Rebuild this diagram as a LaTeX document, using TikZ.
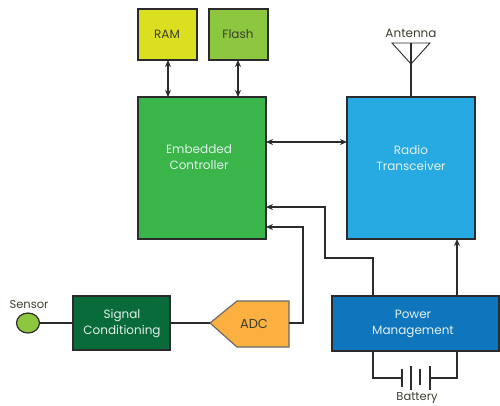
\documentclass[tikz,border=0pt]{standalone}
\usepackage{fontspec}
\setmainfont{Poppins}
\usetikzlibrary{arrows.meta,shapes.geometric}
\definecolor{cram}{HTML}{DADF1F}
\definecolor{cflash}{HTML}{8DC63F}
\definecolor{cemb}{HTML}{39B54A}
\definecolor{cradio}{HTML}{27AAE1}
\definecolor{cpow}{HTML}{0F75BC}
\definecolor{csig}{HTML}{096A3A}
\definecolor{cadc}{HTML}{FBB040}
\definecolor{cline}{HTML}{2B2A2C}
\definecolor{cwtext}{HTML}{E4F1EC}
\definecolor{cdtext}{HTML}{3C3F30}
\tikzset{
  blk/.style={draw=cline,line width=1.6pt,outer sep=0pt,inner sep=0pt,anchor=north west},
  wtxt/.style={align=center,inner sep=0pt,font=\fontsize{12}{16}\selectfont,text=cwtext},
  dtxt/.style={align=center,inner sep=0pt,font=\fontsize{12}{16}\selectfont,text=cdtext},
  lbl/.style={font=\fontsize{11.5}{12}\selectfont,text=cdtext,inner sep=0pt},
  wire/.style={draw=cline,line width=1.4pt,line join=miter},
  arr/.style={wire,-{Stealth[length=7pt,width=6pt]}},
  darr/.style={wire,{Stealth[length=7pt,width=6pt]}-{Stealth[length=7pt,width=6pt]}},
}
\begin{document}
\begin{tikzpicture}[x=1pt,y=-1pt]
\useasboundingbox (0,0) rectangle (500,405);
\node[blk,fill=cram,minimum width=59pt,minimum height=51pt] (ram) at (138,9) {};
\node[blk,fill=cflash,minimum width=59pt,minimum height=51pt] (flash) at (209,9) {};
\node[blk,fill=cemb,minimum width=128pt,minimum height=142pt] (emb) at (138,97) {};
\node[blk,fill=cradio,minimum width=128pt,minimum height=142pt] (radio) at (347,97) {};
\node[blk,fill=cpow,minimum width=167pt,minimum height=55pt] (pow) at (332,296) {};
\node[blk,fill=csig,minimum width=97pt,minimum height=54pt] (sig) at (73,296) {};
\node[dtxt] (ramt) at (167,34) {RAM};
\node[dtxt] (flasht) at (238,34) {Flash};
\node[wtxt] (embt) at (199,157) {Embedded\\Controller};
\node[wtxt] (radiot) at (411,158) {Radio\\Transceiver};
\node[wtxt] (powt) at (413,324) {Power\\Management};
\node[wtxt] (sigt) at (122,324) {Signal\\Conditioning};
\node[draw=cline,fill=cflash,line width=1.2pt,ellipse,inner sep=0pt,outer sep=0pt,
  minimum width=23pt,minimum height=20pt] (sensor) at (28,323) {};
\coordinate (adcr) at (289,323);
\coordinate (adcl) at (210,323);
\filldraw[fill=cadc,draw=cline!70,line width=1.2pt,line join=miter]
  (adcl) -- (237,301) -- (289,301) -- (289,347) -- (237,347) -- cycle;
\node[lbl,font=\fontsize{13}{14}\selectfont] (adc) at (254,324) {ADC};
\node[lbl] (senslbl) at (29,304) {Sensor};
\node[lbl,font=\fontsize{12}{12}\selectfont] (antlbl) at (411,33) {Antenna};
\node[lbl,anchor=north] (batlbl) at (417,392.5) {Battery};

\draw[darr] (ram.south -| 168,0) -- (emb.north -| 168,0);
\draw[darr] (flash.south -| 238,0) -- (emb.north -| 238,0);
\coordinate (h) at (300,142);
\draw[darr] (emb.east |- h) -- (radio.west |- h);
\draw[wire] (sensor) -- (sig.west |- sensor);
\draw[wire] (sig.east |- adcl) -- (adcl);
\coordinate (c1) at (303,323);
\coordinate (c2) at (303,227);
\draw[arr] (adcr) -- (c1) -- (c2) -- (emb.east |- c2);
\coordinate (p1) at (373,296);
\coordinate (p2) at (373,258);
\coordinate (p3) at (325,258);
\coordinate (p4) at (325,207);
\draw[arr] (p1) -- (p2) -- (p3) -- (p4) -- (emb.east |- p4);
\coordinate (q) at (457,0);
\draw[arr] (pow.north -| q) -- (radio.south -| q);
% antenna
\coordinate (a1) at (392,43);
\coordinate (a2) at (430,43);
\coordinate (a3) at (411,64);
\coordinate (a4) at (411,43);
\draw[draw=cline,line width=0.9pt,line join=miter] (a1) -- (a2) -- (a3) -- cycle;
\draw[wire] (a4) -- (radio.north -| a4);
% battery
\coordinate (b1) at (373,351);
\coordinate (b2) at (373,378);
\coordinate (b3) at (402,378);
\coordinate (b4) at (430,378);
\coordinate (b5) at (457,378);
\coordinate (b6) at (457,351);
\draw[wire] (b1) -- (b2) -- (b3);
\draw[wire] (b4) -- (b5) -- (b6);
\draw[wire] (402,369) -- (402,387);
\draw[wire] (411,366) -- (411,390);
\draw[wire] (420,369) -- (420,385);
\draw[wire] (430,366) -- (430,390);
\end{tikzpicture}
\end{document}
